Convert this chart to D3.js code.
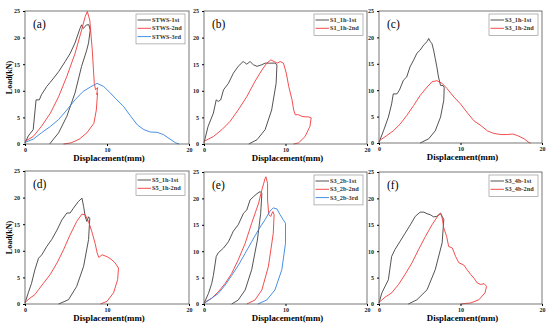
<!DOCTYPE html>
<head>
  <meta charset="utf-8">
  <script src="https://d3js.org/d3.v7.min.js"></script>
  <style>
    body { margin:0; background:white; }
    text { font-family: 'Liberation Serif', 'DejaVu Serif', serif; }
  </style>
</head>
<body>
<script>
  // ---- data: [displacement mm, load kN] ----
  const stws1 = [[0,0.2],[0.4,1.5],[1,2.7],[1.35,8.3],[1.75,8.3],[2,9.25],[2.65,10.8],[3.5,12.4],[4.1,13.6],[4.9,15.5],[5.5,17],[6.1,19],[6.7,21.7],[6.9,22.4],[7.1,21.7],[7.5,22.4],[7.8,22.4],[7.95,21.4],
                 [7.75,19],[7.5,17.5],[6.9,14.6],[6.1,9.6],[5.1,5.2],[4.1,2.1],[3.0,0]];
  const stws2 = [[0,0.5],[1,1.4],[2,3.3],[3.1,5.8],[4.1,8.9],[5.1,12.7],[6.1,17],[6.9,21.4],[7.35,24],[7.6,24.9],[7.9,23.3],[8.2,17.7],[8.45,11.4],[8.6,10.2],[8.85,10.6],[8.75,9.3],
                 [8.85,9.6],[8.7,6.4],[8.4,3.9],[7.55,2.1],[6.6,0.9],[5.6,0.2],[4.7,0]];
  const stws3 = [[0,0.3],[1,0.9],[2,2.1],[3.1,3.3],[4.1,4.6],[5.1,6.4],[6.1,8.3],[7.1,9.9],[8.4,11.1],[8.8,11.4],[9.6,10.8],[10.4,9.6],[11.2,8.3],[12,7.1],[12.9,5.2],[13.7,3.6],[14.5,2.7],[15.3,2.25],[16.1,2.2],[16.9,1.75],[17.8,0.8],[18.4,0.2],[18.8,0]];

  const s1a = [[0,0.2],[0.5,3.3],[1.15,5.8],[1.5,8.3],[1.75,8],[2.05,8.3],[2.4,10.2],[3,11.4],[3.6,13.3],[4.2,14.6],[4.8,15.5],[5,15.3],[5.25,15],[5.65,15.5],[6.05,14.9],[6.5,14.6],[7.1,14.9],[7.5,15.2],[8.1,15.2],[8.7,15.2],[8.95,14.9],
               [8.85,11.4],[8.3,6.4],[7.5,2.7],[6.5,0.8],[5.5,0]];
  const s1b = [[0,0.5],[1.15,1.4],[2.2,2.7],[3.2,4.25],[4.2,6.4],[5.25,8.9],[6.25,11.75],[7.1,13.9],[7.7,15.2],[8.2,15.8],[8.6,15.5],[9,15.2],[9.35,15.5],[9.75,15.2],[10.1,13.3],[10.4,10.8],[10.8,8.3],[11,6.4],[11.2,5.5],[11.6,5.5],[12,5.2],[12.4,5.1],[12.85,5.1],[13.15,4.9],
               [13,3.3],[12.4,1.4],[11.6,0.2],[11,0]];

  const s3a = [[0,0.1],[0.55,2.3],[1.15,4.9],[1.55,7.4],[1.75,9.3],[2.2,9.3],[2.5,10],[3,11.9],[3.4,12.5],[3.8,14.4],[4.25,15.7],[4.65,17],[5.05,17.6],[5.5,18.6],[5.9,19.2],[6.1,19.8],[6.3,19.2],[6.5,18.8],[6.7,17.6],[6.9,16],[7.1,14.4],[7.3,12.5],[7.55,10.9],[7.85,10.9],[8,10.5],
               [7.95,8.1],[7.55,4.9],[6.9,2.3],[6.1,0.8],[5.05,0]];
  const s3b = [[0,0.4],[0.95,1.4],[1.75,2.3],[2.6,3.6],[3.4,5.2],[4.25,7.1],[5.05,9],[5.9,10.6],[6.5,11.6],[7.1,11.8],[7.75,11.3],[8.35,10.3],[9.2,8.7],[10,7.4],[10.8,5.8],[11.65,4.2],[12.5,3.3],[13.3,2.3],[14.1,1.8],[14.95,1.6],[15.75,1.6],[16.4,1.7],[17,1.4],[17.8,0.8],[18.4,0.1],[18.6,0]];

  const s5a = [[0,0.2],[0.4,2.1],[0.8,3.9],[1.2,6.4],[1.65,8.6],[2.05,9.25],[2.65,10.8],[3.25,12.1],[3.9,13.9],[4.5,15.8],[5.1,17.1],[5.5,17.1],[5.9,18],[6.5,19.25],[6.95,19.9],[7.15,18.3],[7.35,16.4],[7.55,15.5],[7.75,16.4],[7.9,16.1],
               [7.75,12.1],[7.15,7.1],[6.3,3.3],[5.3,0.8],[4.1,0]];
  const s5b = [[0,0.3],[0.6,1.1],[1.2,1.75],[1.65,2.7],[2.25,3.9],[3.05,5.5],[3.9,7.7],[4.7,10.2],[5.5,13],[6.3,15.5],[6.95,16.9],[7.35,16.75],[7.75,15.5],[8.15,13.6],[8.55,11.4],[8.8,9.6],[9,8.75],[9.4,9.25],[10,8.9],[10.6,8.3],[11,7.7],[11.4,6.75],
               [11.3,4.6],[10.8,2.1],[10,0.5],[9.2,0]];

  const s32a = [[0,0.1],[0.55,2],[0.95,3.9],[1.15,5.4],[1.5,9],[1.75,9.7],[2.4,10.6],[3,11.8],[3.6,13.8],[4.2,15],[4.85,17.2],[5.25,17.8],[5.65,19.7],[6.05,20.3],[6.5,20.9],[6.9,21.3],[7.1,20.9],
                [6.95,17.1],[6.55,12.1],[5.85,6.5],[5.05,2.65],[4.2,0.75],[3.4,0]];
  const s32b = [[0,0.25],[0.95,1.1],[1.75,2.3],[2.6,3.9],[3.4,5.8],[4.2,8.35],[5.05,11.5],[5.85,15.3],[6.7,19.1],[7.1,21.6],[7.5,23.8],[7.6,24.1],[7.8,22.8],[7.8,19.7],[7.95,16.9],[8.2,16.6],[8.35,17.2],[8.45,17.5],[8.6,16.9],
                [8.5,13.4],[7.9,7.1],[7.1,2.65],[6.25,0.75],[5.25,0]];
  const s32c = [[0,0.1],[0.95,1.1],[1.75,2],[2.6,3.6],[3.4,5.4],[4.2,7.3],[5.05,9.6],[5.85,11.8],[6.7,14.1],[7.5,16],[8.1,17.6],[8.5,18.2],[8.95,18],[9.35,16.9],[9.7,16],[10,15.3],
                [10,11.5],[9.55,6.5],[8.7,2.65],[7.7,0.75],[6.6,0]];

  const s34a = [[0,0.2],[0.35,2.1],[0.75,3.35],[1.15,4.6],[1.55,9],[1.95,10.3],[2.6,11.9],[3.2,13.4],[3.85,15],[4.45,16.6],[5.05,17.4],[5.5,17.4],[5.9,17.1],[6.3,16.9],[6.7,16.5],[7.1,16.6],[7.55,17.2],[7.75,16.6],[7.95,16],
                [7.75,11.6],[6.9,6.5],[5.9,2.7],[4.65,0.8],[3.6,0]];
  const s34b = [[0,0.3],[0.75,1.3],[1.55,2.1],[2.4,3.7],[3.2,5.6],[4.05,7.8],[4.85,10.3],[5.7,12.8],[6.5,15],[7.2,16.6],[7.55,17.2],[7.75,16.3],[7.95,14.4],[8.3,12.8],[8.55,10.9],[9,10.6],[9.4,9],[9.8,7.8],[10.4,7.4],[10.8,6.5],[11.25,5.6],[11.65,4.9],[12.05,4],[12.45,3.7],[12.9,3.85],[13.2,3.35],
                [13,2.1],[12.25,0.8],[11.25,0.2],[10,0]];

  const xTicks = [0, 10, 20];
  const yTicks = [0, 5, 10, 15, 20, 25];

  const black = '#404040', red = '#f23a3a', blue = '#3583e0';

  const panels = [
    {tag:'(a)', x0:25,  x1:189, y0:11,  y1:144, ylab:true,  series:[['STWS-1st',stws1,black],['STWS-2nd',stws2,red],['STWS-3rd',stws3,blue]]},
    {tag:'(b)', x0:204, x1:367, y0:11,  y1:144, ylab:false, series:[['S1_1h-1st',s1a,black],['S1_1h-2nd',s1b,red]]},
    {tag:'(c)', x0:379, x1:542, y0:11,  y1:143, ylab:false, series:[['S3_1h-1st',s3a,black],['S3_1h-2nd',s3b,red]]},
    {tag:'(d)', x0:25,  x1:189, y0:171, y1:304, ylab:true,  series:[['S5_1h-1st',s5a,black],['S5_1h-2nd',s5b,red]]},
    {tag:'(e)', x0:204, x1:367, y0:172, y1:304, ylab:false, series:[['S3_2b-1st',s32a,black],['S3_2b-2nd',s32b,red],['S3_2b-3rd',s32c,blue]]},
    {tag:'(f)', x0:379, x1:542, y0:172, y1:304, ylab:false, series:[['S3_4b-1st',s34a,black],['S3_4b-2nd',s34b,red]]}
  ];

  const svg = d3.select('body').append('svg')
    .attr('width', 550).attr('height', 330)
    .style('background', 'white');

  panels.forEach(p => {
    const x = d3.scaleLinear().domain([0, 20]).range([p.x0, p.x1]);
    const y = d3.scaleLinear().domain([0, 25]).range([p.y1, p.y0]);
    const g = svg.append('g');

    // curves
    const line = d3.line().x(d => x(d[0])).y(d => y(d[1]));
    p.series.forEach(s => {
      g.append('path')
        .attr('d', line(s[1]))
        .attr('fill', 'none')
        .attr('stroke', s[2])
        .attr('stroke-width', 0.9)
        .attr('stroke-linejoin', 'round');
    });

    // frame
    g.append('rect')
      .attr('x', p.x0).attr('y', p.y0)
      .attr('width', p.x1 - p.x0).attr('height', p.y1 - p.y0)
      .attr('fill', 'none').attr('stroke', '#555').attr('stroke-width', 0.8);

    // axes
    g.append('g').attr('transform', `translate(0,${p.y1})`)
      .call(d3.axisBottom(x).tickValues(xTicks).tickSize(2).tickPadding(2))
      .call(a => a.select('.domain').remove())
      .call(a => a.selectAll('text').style('font-size', '6px').style('font-weight', 'bold').attr('fill', '#222'));
    g.append('g').attr('transform', `translate(${p.x0},0)`)
      .call(d3.axisLeft(y).tickValues(yTicks).tickSize(2).tickPadding(3))
      .call(a => a.select('.domain').remove())
      .call(a => a.selectAll('text').style('font-size', '6px').style('font-weight', 'bold').attr('fill', '#222'));

    g.append('text')
      .attr('x', (p.x0 + p.x1) / 2 + 2).attr('y', p.y1 + 17)
      .attr('text-anchor', 'middle')
      .style('font-size', '8.8px').style('font-weight', 'bold')
      .text('Displacement(mm)');

    if (p.ylab) {
      g.append('text')
        .attr('transform', `translate(${p.x0 - 13},${(p.y0 + p.y1) / 2}) rotate(-90)`)
        .attr('text-anchor', 'middle')
        .style('font-size', '8px').style('font-weight', 'bold')
        .text('Load(kN)');
    }

    g.append('text')
      .attr('x', p.x0 + 8).attr('y', p.y0 + 17)
      .style('font-size', '11.5px')
      .text(p.tag);

    // legend
    const lw = 49, lh = 5 + p.series.length * 8.3;
    const lg = g.append('g').attr('transform', `translate(${p.x1 - lw - 4},${p.y0 + 3})`);
    lg.append('rect').attr('width', lw).attr('height', lh)
      .attr('fill', 'white').attr('stroke', '#888').attr('stroke-width', 0.6);
    p.series.forEach((s, i) => {
      const yy = 6 + i * 8.3;
      lg.append('line').attr('x1', 1.5).attr('x2', 15).attr('y1', yy).attr('y2', yy)
        .attr('stroke', s[2]).attr('stroke-width', 0.9);
      lg.append('text').attr('x', 16).attr('y', yy + 2)
        .style('font-size', '6.3px').style('font-weight', 'bold').attr('fill', '#333')
        .text(s[0]);
    });
  });
</script>
</body>
